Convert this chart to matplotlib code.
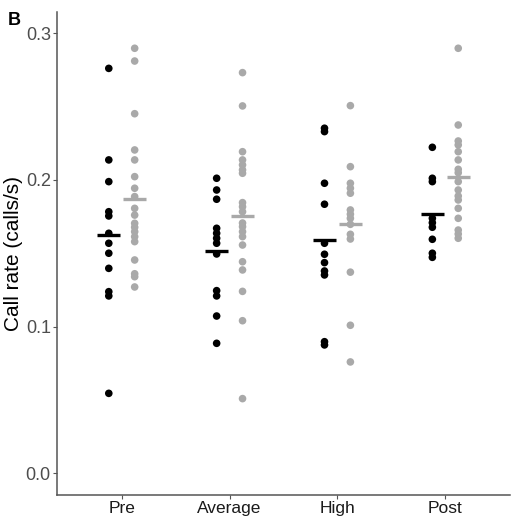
import numpy as np
import matplotlib.pyplot as plt

plt.rcParams['font.family'] = ['Liberation Sans', 'DejaVu Sans']

conditions = ["Pre", "Average", "High", "Post"]

# black series (left column in each group)
black_pre = [0.276, 0.2136, 0.1988, 0.1783, 0.1754, 0.1636, 0.1568, 0.150,
             0.1397, 0.1238, 0.1209, 0.0545]
black_avg = [0.2011, 0.1931, 0.1868, 0.167, 0.1636, 0.1602, 0.1568, 0.1495,
             0.1245, 0.1209, 0.1072, 0.0886]
black_high = [0.2352, 0.2329, 0.1977, 0.1834, 0.1568, 0.1493, 0.1436, 0.1379,
              0.1352, 0.0897, 0.0875]
black_post = [0.2222, 0.2011, 0.1988, 0.1738, 0.1708, 0.1677, 0.1595, 0.150,
              0.1472]

# grey series (right column in each group)
grey_pre = [0.2897, 0.281, 0.2451, 0.2204, 0.2136, 0.2022, 0.1943, 0.1886,
            0.1806, 0.176, 0.1704, 0.1677, 0.1647, 0.1613, 0.1579, 0.1454,
            0.136, 0.134, 0.127]
grey_avg = [0.2731, 0.2504, 0.2192, 0.2136, 0.2102, 0.2068, 0.2045, 0.1845,
            0.1817, 0.1783, 0.1706, 0.1681, 0.1647, 0.1613, 0.1556, 0.1442,
            0.1386, 0.124, 0.104, 0.0509]
grey_high = [0.2506, 0.209, 0.1977, 0.1943, 0.1909, 0.1795, 0.1766, 0.1738,
             0.1697, 0.1629, 0.1597, 0.1371, 0.1009, 0.0759]
grey_post = [0.2897, 0.2374, 0.2265, 0.2238, 0.2192, 0.2136, 0.2072, 0.2049,
             0.1988, 0.1931, 0.189, 0.1863, 0.1806, 0.1738, 0.1658, 0.1631,
             0.1602]

black = [black_pre, black_avg, black_high, black_post]
grey = [grey_pre, grey_avg, grey_high, grey_post]

grey_col = "#a9a9a9"
off = 0.12
half = 0.105

fig = plt.figure(figsize=(5.26, 5.27), dpi=100)
ax = fig.add_axes([0.1084, 0.0607, 0.8612, 0.9173])

for i, (b, g) in enumerate(zip(black, grey)):
    xpos = i + 1
    ax.scatter(np.full(len(b), xpos - off), b, s=30, color="black",
               edgecolors="none", zorder=3)
    ax.scatter(np.full(len(g), xpos + off), g, s=30, color=grey_col,
               edgecolors="none", zorder=3)
    ax.hlines(np.mean(b), xpos - off - half, xpos - off + half,
              color="black", lw=2.4, zorder=4)
    ax.hlines(np.mean(g), xpos + off - half, xpos + off + half,
              color=grey_col, lw=2.4, zorder=4)

ax.set_xlim(0.4, 4.6)
ax.set_ylim(-0.0148, 0.3147)
ax.set_xticks(range(1, 5))
ax.set_xticklabels(conditions, fontsize=12.5, color="#1a1a1a")
ax.set_yticks([0.0, 0.1, 0.2, 0.3])
ax.set_yticklabels(["0.0", "0.1", "0.2", "0.3"], fontsize=13,
                   color="#4d4d4d")
ax.tick_params(length=3, width=0.8, color="#555555", pad=1.5)
ax.set_ylabel("Call rate (calls/s)", fontsize=15, color="black", labelpad=2)

for side in ["top", "right"]:
    ax.spines[side].set_visible(False)
for side in ["left", "bottom"]:
    ax.spines[side].set_color("#555555")
    ax.spines[side].set_linewidth(1.1)

fig.text(0.015, 0.953, "B", fontsize=13, fontweight="bold")

plt.savefig("out.png")
